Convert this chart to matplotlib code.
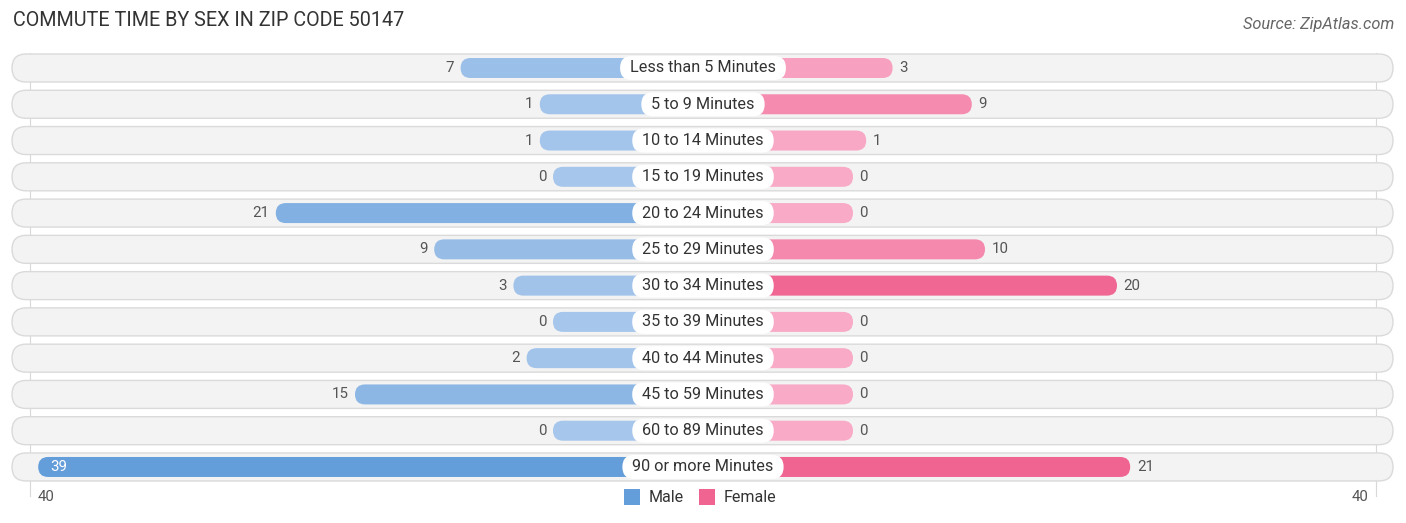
import numpy as np
import matplotlib.pyplot as plt
from matplotlib.patches import FancyBboxPatch, Patch

plt.rcParams['font.family'] = ['Roboto', 'DejaVu Sans']

categories = ['Less than 5 Minutes', '5 to 9 Minutes', '10 to 14 Minutes',
              '15 to 19 Minutes', '20 to 24 Minutes', '25 to 29 Minutes',
              '30 to 34 Minutes', '35 to 39 Minutes', '40 to 44 Minutes',
              '45 to 59 Minutes', '60 to 89 Minutes', '90 or more Minutes']
male = [7, 1, 1, 0, 21, 9, 3, 0, 2, 15, 0, 39]
female = [3, 9, 1, 0, 0, 10, 20, 0, 0, 0, 0, 21]
axis_max = 40

W, H = 1406, 523
px_unit = 13.2          # pixels per value unit
cx = 703                # centre pixel
row0, row_step = 68, 36.27
stub = 150 / px_unit    # bar part hidden under the label

male_light = np.array([166, 198, 235]) / 255
male_dark = np.array([99, 158, 219]) / 255
fem_light = np.array([248, 170, 198]) / 255
fem_dark = np.array([240, 100, 146]) / 255


def shade(v, vmax, light, dark):
    t = v / vmax if vmax else 0
    return tuple(light + (dark - light) * t)


fig = plt.figure(figsize=(W / 100, H / 100), dpi=100)
ax = fig.add_axes([0, 0, 1, 1])
ax.set_xlim(-cx / px_unit, (W - cx) / px_unit)
ax.set_ylim((H - row0) / row_step, -row0 / row_step)
ax.axis('off')

asp = px_unit / row_step  # keeps the rounded ends circular in pixels


def pill(x0, x1, y, h_px, **kw):
    h = h_px / row_step
    r = (h_px / 2) / px_unit
    p = FancyBboxPatch((x0, y - h / 2), x1 - x0, h,
                       boxstyle=f'round,pad=0,rounding_size={r}',
                       mutation_aspect=asp, **kw)
    ax.add_patch(p)
    return p


# faint grid lines at the axis extents
grid_x = (1376 - cx) / px_unit
for gx in (-grid_x, grid_x):
    ax.plot([gx, gx], [-0.4, len(categories) - 0.2], color='#d8d8d8', lw=0.8, zorder=0)

bg_l = (12 - cx) / px_unit
bg_r = (1393 - cx) / px_unit
m_max, f_max = max(male), max(female)
renderer = fig.canvas.get_renderer()

for i, (cat, m, f) in enumerate(zip(categories, male, female)):
    pill(bg_l, bg_r, i, 28, fc='#f3f3f3', ec='#dadada', lw=1, zorder=1)
    mlen = stub + m
    flen = stub + f
    pill(-mlen, 0, i, 20, fc=shade(m, m_max, male_light, male_dark), ec='none', zorder=2)
    pill(0, flen, i, 20, fc=shade(f, f_max, fem_light, fem_dark), ec='none', zorder=2)
    t = ax.text(0, i, cat, ha='center', va='center', fontsize=11.7, color='#333333', zorder=4)
    tw = t.get_window_extent(renderer).width / px_unit
    half = tw / 2 + 10 / px_unit
    pill(-half, half, i, 24, fc='white', ec='none', zorder=3)
    if m > 30:
        ax.text(-mlen + 0.9, i, str(m), ha='left', va='center', fontsize=10.8,
                color='white', zorder=3)
    else:
        ax.text(-mlen - 0.5, i, str(m), ha='right', va='center', fontsize=10.8,
                color='#555555', zorder=3)
    ax.text(flen + 0.5, i, str(f), ha='left', va='center', fontsize=10.8,
            color='#555555', zorder=3)

tick_y = (497 - row0) / row_step
ax.text(-grid_x + 0.6, tick_y, str(axis_max), ha='left', va='center', fontsize=10.8, color='#555555')
ax.text(grid_x - 0.6, tick_y, str(axis_max), ha='right', va='center', fontsize=10.8, color='#555555')

handles = [Patch(fc=tuple(male_dark), ec='none', label='Male'),
           Patch(fc=tuple(fem_dark), ec='none', label='Female')]
fig.legend(handles=handles, loc='center', bbox_to_anchor=(700 / W, 1 - 497 / H), ncol=2,
           frameon=False, fontsize=11.5, handlelength=1.0, handleheight=1.2,
           handletextpad=0.5, columnspacing=1.0, labelcolor='#333333')

fig.text(13 / W, 1 - 21 / H, 'COMMUTE TIME BY SEX IN ZIP CODE 50147', ha='left', va='center',
         fontsize=14.2, color='#333333')
fig.text(1394 / W, 1 - 24 / H, 'Source: ZipAtlas.com', ha='right', va='center',
         fontsize=11.8, color='#666666', style='italic')

fig.savefig('out.png', dpi=100)
